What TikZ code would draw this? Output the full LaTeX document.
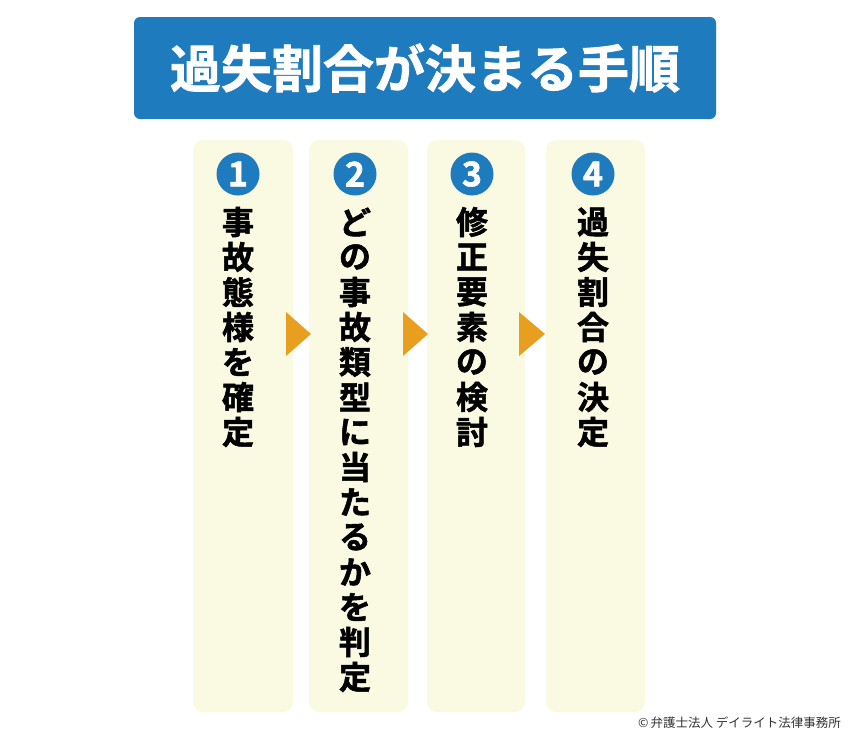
\documentclass[tikz,border=0pt]{standalone}
\usepackage{fontspec}
\newfontfamily\jp{Noto Sans CJK JP}
\newfontfamily\jpb{Noto Sans CJK JP Bold}[FakeBold=1.6]
\definecolor{titleblue}{HTML}{1E7BBE}
\definecolor{colcream}{HTML}{FAFAE2}
\definecolor{arroworange}{HTML}{E89E1E}
\definecolor{circblue}{HTML}{1E7BBE}
\begin{document}
\begin{tikzpicture}[x=1pt,y=-1pt,
  colbox/.style={fill=colcream, draw=none, rounded corners=10pt},
  numcirc/.style={circle, fill=circblue, minimum size=43pt, inner sep=0pt, text=white, font=\jpb\fontsize{34}{34}\selectfont},
  vchar/.style={inner sep=0pt, font=\jpb\fontsize{32}{32}\selectfont, text=black},
  arrowtri/.style={fill=arroworange, draw=none}]
\useasboundingbox (0,0) rectangle (850,739);
\fill[white] (0,0) rectangle (850,739);
% title
\node[fill=titleblue, rounded corners=6pt, minimum width=582pt, minimum height=102pt, inner sep=0pt, text=white, font=\jpb\fontsize{51}{51}\selectfont] (title) at (425,68) {過失割合が決まる手順};
% columns
\fill[colbox] (193,140) rectangle (293,712);
\fill[colbox] (309,140) rectangle (408,712);
\fill[colbox] (427,140) rectangle (525,712);
\fill[colbox] (546,140) rectangle (645,712);
% circles
\node[numcirc] (n1) at (238,174) {1};
\node[numcirc] (n2) at (355,174) {2};
\node[numcirc] (n3) at (472,174) {3};
\node[numcirc] (n4) at (593,174) {4};
% vertical texts
\foreach \c [count=\i from 0] in {事,故,態,様,を,確,定}
  \node[vchar] (a\i) at (238,222+35*\i) {\c};
\foreach \c [count=\i from 0] in {ど,の,事,故,類,型,に,当,た,る,か,を,判,定}
  \node[vchar] (b\i) at (355,222+35*\i) {\c};
\foreach \c [count=\i from 0] in {修,正,要,素,の,検,討}
  \node[vchar] (c\i) at (472,222+35*\i) {\c};
\foreach \c [count=\i from 0] in {過,失,割,合,の,決,定}
  \node[vchar] (d\i) at (593,222+35*\i) {\c};
% arrows
\fill[arrowtri] (286,312) -- (311,334) -- (286,356) -- cycle;
\fill[arrowtri] (403,312) -- (428,334) -- (403,356) -- cycle;
\fill[arrowtri] (519,312) -- (545,334) -- (519,356) -- cycle;
% copyright
\node[anchor=east, inner sep=0pt, text=black!80, font=\jp\fontsize{12.5}{12.5}\selectfont] (copy) at (841,723) {©\,弁護士法人 デイライト法律事務所};
\end{tikzpicture}
\end{document}
